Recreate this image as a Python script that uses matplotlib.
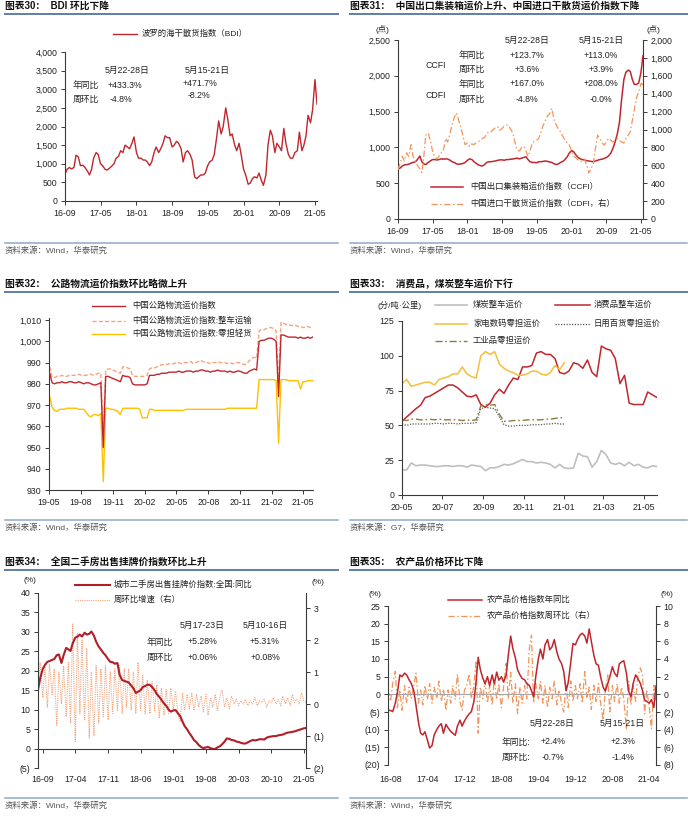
import matplotlib
matplotlib.use("Agg")
import matplotlib.pyplot as plt
from matplotlib.lines import Line2D
import pandas as pd

plt.rcParams['font.family'] = ['Liberation Sans', 'Noto Sans CJK SC', 'DejaVu Sans']
plt.rcParams['axes.unicode_minus'] = False

# ---------------- data ----------------
# 图表30 BDI (semi-monthly from 2016-09)
bdi = [720, 850, 900, 860, 900, 1230, 1180, 950,
       960, 900, 800, 700, 850, 1150, 1300, 1250, 1000, 950, 850, 830,
       880, 930, 1000, 1150, 1200, 1350, 1300, 1500, 1450, 1400, 1550, 1720,
       1300, 1150, 1150, 1100, 1100, 1050, 950, 1050, 1300, 1450, 1300, 1400,
       1550, 1750, 1700, 1700, 1450, 1500, 1600, 1550, 1400, 1050, 1300, 1350,
       1250, 1100, 650, 600, 650, 700, 700, 750, 950, 1050, 1100, 1250,
       1700, 2150, 1800, 2000, 2500, 2200, 1750, 1800, 1500, 1350, 1550, 1250,
       850, 700, 450, 480, 600, 650, 620, 750, 550, 420, 700, 1500,
       1900, 1750, 1300, 1550, 1450, 1350, 1950, 1550, 1250, 1150, 1150, 1300,
       1350, 1850, 1350, 1500, 1750, 2300, 2100, 2450, 3260, 2600]
x1_labels = ['16-09', '17-05', '18-01', '18-09', '19-05', '20-01', '20-09', '21-05']

# 图表31 CCFI (left) / CDFI (right), semi-monthly from 2016-09
ccfi = [700, 710, 740, 755, 760, 765, 780, 790, 800, 830,
        880, 800, 770, 760, 790, 810, 830, 830, 825, 830,
        840, 835, 840, 838, 820, 800, 790, 770, 765, 770,
        775, 790, 820, 840, 830, 800, 780, 760, 745, 740,
        760, 790, 800, 800, 805, 810, 820, 825, 826, 820,
        830, 830, 835, 838, 845, 850, 840, 850, 860, 870,
        830, 800, 790, 790, 785, 800, 800, 805, 810, 805,
        795, 790, 770, 760, 770, 790, 805, 830, 870, 920,
        955, 940, 890, 860, 840, 830, 825, 815, 810, 805,
        800, 810, 820, 830, 835, 845, 860, 880, 920, 980,
        1080, 1180, 1350, 1650, 1950, 2050, 2080, 2060, 1950, 1880,
        1880, 1900, 2050, 2280]
cdfi = [550, 620, 700, 650, 740, 700, 830, 700, 650, 600,
        560, 520, 700, 940, 960, 880, 760, 700, 670, 700,
        740, 760, 900, 860, 960, 1050, 1140, 1184, 1100, 1030,
        920, 830, 850, 810, 840, 830, 850, 860, 880, 900,
        910, 950, 980, 975, 1000, 1020, 1030, 990, 1010, 1040,
        1050, 1045, 1000, 960, 850, 770, 760, 800, 810, 760,
        700, 760, 850, 870, 880, 900, 980, 1045, 1100, 1150,
        1180, 1235, 1100, 1050, 1000, 975, 920, 880, 850, 827,
        760, 700, 680, 660, 640, 650, 670, 600, 514, 560,
        620, 780, 938, 900, 850, 827, 860, 900, 880, 860,
        880, 900, 880, 860, 850, 900, 938, 976, 1100, 1218,
        1366, 1420, 1515, 1500]

# 图表32 road freight indices, weekly from 2019-05-03
road_all = [985, 980.5, 980, 980.5, 980.5, 981, 980.5, 980.5, 981, 981,
            980.5, 980.5, 981, 980.5, 980, 980.5, 980.5, 980, 979.5, 979.5,
            980, 980.5, 950, 983.5, 983.5, 983, 982.5, 982, 981.5, 981,
            984, 983.5, 983.5, 983, 980, 979.5, 979.5, 979.5, 979.5, 979.5,
            980, 984, 984, 984, 984.5, 984.5, 985, 985, 985, 985.5,
            985.5, 985.5, 985.5, 986, 985.5, 985.5, 986, 986, 986, 985.5,
            986, 986, 986.5, 986.5, 986, 986, 985.5, 986, 986, 986.5,
            986, 986, 986, 985.5, 986, 985.5, 985.5, 986, 986, 985.5,
            985, 985, 986, 986.5, 987, 986.5, 1000, 1000.5, 1000.5, 1001,
            1001.5, 1001.5, 1001, 1000, 974, 1003, 1003, 1002.5, 1002, 1002,
            1002, 1002, 1001.5, 1002, 1001.5, 1001.5, 1002, 1001.5, 1002]
road_truck = [988, 983, 983, 983.5, 983.5, 984, 983.5, 983.5, 984, 984,
              984, 984, 984.5, 984, 984, 984, 984.5, 984.5, 984, 984.5,
              985, 985, 955, 986.5, 987, 987, 986.5, 986, 985.5, 985,
              988, 988, 987.5, 987, 984, 983.5, 983.5, 983.5, 983.5, 983.5,
              984, 987, 987.5, 987.5, 988, 988.5, 989, 989, 989, 989.5,
              989.5, 989.5, 990, 990, 989.5, 990, 990, 990, 990.5, 989.5,
              990, 990.5, 991, 990.5, 990, 990, 989.5, 990, 990, 990.5,
              990, 990, 990, 989.5, 990, 989.5, 989.5, 990, 990, 989.5,
              989, 989.5, 991, 992, 992.5, 992, 1005, 1005.5, 1005.5, 1006,
              1006.5, 1006.5, 1006, 1005, 980, 1009, 1008.5, 1008, 1008, 1007.5,
              1007.5, 1007.5, 1007, 1007, 1006.5, 1006.5, 1007, 1006.5, 1006.5]
road_ltl = [974, 969, 967.5, 967, 968, 968, 968, 968.5, 968.5, 968.5,
            968.5, 968.5, 968, 968, 968, 966.5, 965, 964.5, 965.5, 965.5,
            965, 966, 934, 968.5, 968.5, 968, 968, 967.5, 967, 965.5,
            968.5, 968.5, 968.5, 968.5, 968.5, 968.5, 968.5, 968, 964, 964,
            964, 968, 968, 967.5, 967.5, 967.5, 967.5, 967.5, 967.5, 967.5,
            967.5, 967.5, 967.5, 967.5, 967.5, 967.5, 968, 968, 968, 968,
            968, 968, 968, 968, 968, 968, 968, 968, 968, 968,
            968, 968, 968, 968.5, 968.5, 968.5, 968.5, 968.5, 968.5, 968.5,
            968.5, 968.5, 968.5, 968.5, 968.5, 968.5, 982, 982, 982, 982,
            982, 982, 982, 981.5, 952, 982, 982, 982, 981.5, 981.5,
            981.5, 981.5, 981.5, 977.5, 981, 981, 981.5, 981.5, 981.5]
x3_labels = ['19-05', '19-08', '19-11', '20-02', '20-05', '20-08', '20-11', '21-02', '21-05']

# 图表33 G7 freight rates, weekly from 2020-05-01
coal = [18, 18, 23, 21, 21.5, 21.5, 21, 20.5, 20.5, 21,
        21, 20.5, 21, 21, 20, 21.5, 21, 20.5, 17.5, 19.5,
        19.5, 20.5, 22, 21.5, 22.5, 24, 25.5, 24, 24, 23,
        23.5, 23, 22, 19.5, 22, 19.5, 19, 19.5, 30, 28,
        27.5, 20, 24, 32, 29, 23, 22, 23, 21, 23.5,
        21, 22, 20, 19.5, 21, 20.5]
consumer = [53, 56, 59, 62, 64.5, 70, 71, 73, 75, 77,
            79, 79, 77, 74, 71, 70.5, 72, 65, 63, 66,
            72, 76, 73, 79, 84, 83, 92, 92, 93, 102,
            103, 101, 101, 98, 88, 87, 89, 95, 94, 91,
            97, 88, 85, 107, 105, 104, 98, 80, 86, 66,
            65, 65, 65, 74, 72, 70]
appliance = [80, 83, 78, 79, 80, 81, 81, 79, 83, 84,
             85, 87, 87, 92, 87, 85, 84, 100, 103, 101,
             103, 94, 91, 89, 88, 86, 86, 87, 89, 89,
             87, 86, 88, 93, 90, 95]
daily = [51, 50, 51, 51, 51, 51, 51, 51.5, 51.5, 51,
         51.5, 51.5, 51, 51.5, 51.5, 51.5, 52, 62, 63, 62.5,
         62, 56, 50.5, 49.5, 49.5, 50, 50, 50, 50.5, 50.5,
         50.5, 51, 51, 51.5, 51, 51]
industrial = [54, 53.5, 54.5, 54.5, 54, 54, 54.5, 54, 54.5, 54,
              54, 54, 54, 53.5, 54, 53.5, 54, 64, 65, 64.5,
              65, 58, 53, 53, 53.5, 53.5, 53.5, 54, 54, 54,
              54, 54.5, 54.5, 55, 55.5, 55.5]
x4_labels = ['20-05', '20-07', '20-09', '20-11', '21-01', '21-03', '21-05']

# 图表34 second-hand housing listing price, semi-monthly from 2016-08
house_yoy = [15.1, 18, 20.5, 21.5, 22.3, 22.5, 22.8, 23, 24, 24.2,
             22, 24, 25.9, 25.5, 25.1, 27, 28.5, 28.8, 29.3, 28.8,
             29.8, 29.3, 29.5, 30.1, 29, 27.5, 26.2, 25.5, 24.6, 24,
             23, 22.3, 22.2, 21.8, 22, 19, 17.6, 17.4, 17.2, 17,
             16.2, 15.5, 14.3, 14.6, 15, 15.8, 16.1, 16.4, 16.4, 15.8,
             15, 14, 13.3, 12.5, 11.6, 11, 10, 9.5, 9.8, 9.9,
             9, 8.3, 7, 5.8, 4.9, 4, 3.1, 2.2, 1.6, 0.9,
             0.4, 0.1, 0.3, 0.4, 0.1, -0.1, -0.1, 0.3, 0.6, 1.1,
             1.8, 2.6, 2.5, 2.2, 2.1, 1.8, 1.7, 1.5, 1.3, 1.3,
             1.6, 1.9, 2.2, 2.1, 2.2, 2.4, 2.4, 2.3, 2.8, 3.0,
             3.1, 3.2, 3.2, 3.4, 3.5, 3.6, 3.9, 4.1, 4.2, 4.3,
             4.4, 4.6, 4.8, 5.0, 5.2, 5.28]
house_wow = [0.4, 1.3, 0.2, 1.2, -0.1, 1.25, 0.3, 1.1, -0.66, 1.0,
             0.0, 1.2, -0.4, 1.3, -0.6, 2.5, -1.18, 2.2, -0.3, 2.0,
             -0.5, 1.75, -1.06, 1.0, -1.0, 1.2, -0.6, 1.1, -0.4, 1.2,
             -0.5, 1.0, -0.3, 1.1, -0.2, 1.2, -0.3, 1.1, -0.1, 1.1,
             -0.2, 1.0, -0.3, 1.3, -0.2, 0.9, -0.3, 0.75, -0.3, 0.7,
             -0.2, 0.6, -0.45, 0.5, -0.35, 0.45, -0.3, 0.5, -0.2, 0.4,
             -0.35, -0.55, 0.35, -0.2, 0.3, -0.15, 0.35, -0.2, 0.3, -0.1,
             0.25, -0.25, 0.3, -0.35, 0.2, -0.1, 0.3, -0.2, 0.25, 0.44,
             -0.1, 0.2, -0.15, 0.25, 0.0, 0.15, -0.05, 0.1, 0.0, 0.15,
             -0.05, 0.1, 0.0, 0.2, -0.05, 0.1, 0.05, 0.15, -0.1, 0.1,
             0.05, 0.2, 0.0, 0.15, -0.05, 0.25, 0.0, 0.2, -0.05, 0.3,
             0.05, 0.15, 0.0, 0.35, 0.1, 0.06]
x5_labels = ['16-09', '17-04', '17-11', '18-06', '19-01', '19-08', '20-03', '20-10', '21-05']

# 图表35 agricultural price index, semi-monthly from 2016-07-15
agri_yoy = [-4.4, -4.6, -4.9, -2.5, 0.5, 5.5, 5.0, 6.0, 5.5, 4.1,
            3.1, 1.0, -3.0, -8.0, -11.0, -11.5, -10.6, -13.0, -15.2, -14.5,
            -11.5, -10.0, -9.0, -8.3, -11.0, -8.5, -9.5, -10.5, -11.0, -11.6,
            -9.0, -7.3, -9.0, -7.5, -6.5, -5.5, -4.9, -2.0, 3.5, 10.5,
            7.0, 4.5, 3.0, 5.0, 2.5, 5.5, 3.0, 6.3, 4.0, 5.0,
            3.5, 5.4, 11.0, 16.5, 13.0, 10.3, 7.0, 5.5, 4.5, 4.1,
            3.0, 2.5, 1.0, -0.7, 5.0, 10.0, 12.8, 10.0, 14.0, 15.5,
            12.6, 13.5, 15.5, 12.0, 10.0, 8.7, 6.5, 1.0, 3.4, 9.2,
            14.4, 14.0, 15.5, 16.8, 17.3, 16.5, 14.5, 18.5, 15.0, 11.0,
            8.7, 8.2, 5.0, 2.0, 0.9, 3.0, 5.0, 7.8, 6.0, 5.0,
            8.6, 9.2, 9.5, 6.0, 1.0, -0.7, 3.0, 5.5, 4.5, 3.1,
            1.0, -1.6, -2.0, -2.5, -1.5, -3.7, 2.4]
agri_wow = [0.5, -0.8, 1.2, 2.6, -1.5, 0.5, -1.8, 1.0, -1.0, 0.8,
            -0.5, 1.0, 2.4, -1.0, 0.5, -1.2, 1.0, -0.6, 1.2, -1.0,
            0.8, -0.5, 1.5, -0.8, 0.6, -1.8, 0.5, -1.0, 1.0, -0.6,
            2.3, -0.8, -1.8, 0.5, 1.0, 2.3, -0.5, 1.0, 3.8, -4.4,
            0.8, -0.5, 1.5, -1.0, 1.0, -1.2, 1.8, -0.6, 1.2, -1.5,
            0.8, 3.5, -0.5, 2.5, -1.0, 1.2, -2.2, 0.8, -1.0, 1.0,
            -0.5, 5.2, 6.7, -1.0, 1.2, -0.5, 1.5, -1.0, 1.0, -1.5,
            0.8, -0.5, 1.5, -1.2, 0.5, -1.0, -2.0, 1.0, -1.5, 1.5,
            -0.8, 1.0, -0.5, 1.2, -1.0, 2.6, -0.5, 0.8, -1.7, 1.0,
            -0.8, 1.2, -1.0, -2.9, 0.5, 2.2, -2.0, 1.0, -0.8, 1.2,
            -1.0, 0.8, -0.5, -4.0, 1.5, -1.2, 1.0, -0.8, 2.0, 3.0,
            2.2, -2.2, 0.5, -1.5, -3.9, 1.0, -0.7]
x6_labels = ['16-08', '17-04', '17-12', '18-08', '19-04', '19-12', '20-08', '21-04']

# ---------------- figure helpers ----------------
W, H = 692, 817
fig = plt.figure(figsize=(W / 100, H / 100), dpi=100)
fig.patch.set_facecolor('white')

RED = '#C0262D'
DARK_RED = '#B01E28'
ORANGE = '#F2955A'
LIGHT_ORANGE = '#F5A57E'
YELLOW = '#FFC000'
GREY = '#BFBFBF'
TITLE_RULE = '#5E7FA8'
SRC_RULE = '#8EA8C8'
TXT = '#222222'


def fx(x):
    return x / W


def fy(y):
    return 1 - y / H


def txt(x, y, s, size=6.3, ha='left', weight='normal', color=TXT):
    fig.text(fx(x), fy(y), s, fontsize=size, ha=ha, va='center',
             fontweight=weight, color=color)


def rule(x0, x1, y, color, lw):
    fig.add_artist(Line2D([fx(x0), fx(x1)], [fy(y), fy(y)], color=color, lw=lw))


def key(x0, x1, y, tx, label, **style):
    # legend sample drawn in figure space
    fig.add_artist(Line2D([fx(x0), fx(x1)], [fy(y), fy(y)], **style))
    txt(tx, y, label, size=6)


def panel(x0, x1, title, t_y, src, src_y):
    txt(x0, t_y, title, size=7, weight='bold', color='#111111')
    rule(x0, x1, t_y + 8, TITLE_RULE, 1.4)
    rule(x0, x1, src_y - 8, SRC_RULE, 1.1)
    txt(x0, src_y, src, size=6, color='#555555')


def add_ax(l, t, r, b):
    return fig.add_axes([fx(l), fy(b), (r - l) / W, (b - t) / H])


def style(ax, right=False):
    for s in ['top', 'right', 'left', 'bottom']:
        ax.spines[s].set_visible(False)
    keep = ['right'] if right else ['left', 'bottom']
    for s in keep:
        ax.spines[s].set_visible(True)
        ax.spines[s].set_color('#3a3a3a')
        ax.spines[s].set_linewidth(0.8)
    ax.tick_params(direction='out', length=3, width=0.7, color='#3a3a3a',
                   labelsize=6.3, labelcolor=TXT, pad=2.5)
    ax.patch.set_visible(False)


def month_ticks(labels):
    return pd.to_datetime(['20' + s + '-01' for s in labels])


def paren(v):
    return f'({abs(v):,.0f})' if v < 0 else f'{v:,.0f}'


# ---------------- 图表30 ----------------
panel(5, 338, '图表30：  BDI 环比下降', 6, '资料来源：Wind，华泰研究', 251)
d1 = pd.date_range('2016-09-01', periods=len(bdi), freq='SMS')
ax1 = add_ax(65, 52, 317, 201)
style(ax1)
ax1.plot(d1, bdi, color=RED, lw=1.0)
ax1.set_ylim(0, 4000)
ax1.set_yticks(range(0, 4001, 500), [paren(v) for v in range(0, 4001, 500)])
ax1.set_xlim(d1[0], d1[-1])
ax1.set_xticks(month_ticks(x1_labels), x1_labels)
key(113, 137, 34, 142, '波罗的海干散货指数（BDI）', color=RED, lw=1.0)
txt(127, 70, '5月22-28日', ha='center')
txt(207, 70, '5月15-21日', ha='center')
txt(73, 85, '年同比')
txt(108, 85, '+433.3%')
txt(183, 84, '+471.7%')
txt(73, 99, '周环比')
txt(110, 99, '-4.8%')
txt(188, 96, '-8.2%')

# ---------------- 图表31 ----------------
panel(350, 687, '图表31：  中国出口集装箱运价上升、中国进口干散货运价指数下降', 6,
      '资料来源：Wind，华泰研究', 251)
d2 = pd.date_range('2016-09-01', periods=len(ccfi), freq='SMS')
ax2 = add_ax(398, 40, 643, 219)
ax2r = ax2.twinx()
style(ax2)
style(ax2r, right=True)
ax2.plot(d2, ccfi, color=RED, lw=1.1, zorder=3)
ax2r.plot(d2, cdfi, color=ORANGE, lw=0.9, linestyle=(0, (5, 2, 1.2, 2)))
ax2.set_ylim(0, 2500)
ax2.set_yticks(range(0, 2501, 500), [paren(v) for v in range(0, 2501, 500)])
ax2r.set_ylim(0, 2000)
ax2r.set_yticks(range(0, 2001, 200), [paren(v) for v in range(0, 2001, 200)])
ax2.set_xlim(d2[0], d2[-1])
ax2.set_xticks(month_ticks(x1_labels), x1_labels)
txt(375, 30, '(点)', size=6)
txt(653, 30, '(点)', size=6, ha='center')
txt(527, 40, '5月22-28日', ha='center')
txt(601, 40, '5月15-21日', ha='center')
txt(436, 66, 'CCFI', ha='center')
txt(436, 96, 'CDFI', ha='center')
for yy, a, b, lab in [(55, '+123.7%', '+113.0%', '年同比'), (69, '+3.6%', '+3.9%', '周环比'),
                      (84, '+167.0%', '+208.0%', '年同比'), (99, '-4.8%', '-0.0%', '周环比')]:
    txt(472, yy, lab, ha='center')
    txt(527, yy, a, ha='center')
    txt(601, yy, b, ha='center')
key(431, 463, 187, 470, '中国出口集装箱运价指数（CCFI）', color=RED, lw=1.1)
key(431, 463, 204, 470, '中国进口干散货运价指数（CDFI，右）', color=ORANGE, lw=0.9,
    linestyle=(0, (5, 2, 1.2, 2)))

# ---------------- 图表32 ----------------
panel(5, 338, '图表32：  公路物流运价指数环比略微上升', 284, '资料来源：Wind，华泰研究', 528)
d3 = pd.date_range('2019-05-03', periods=len(road_all), freq='7D')
ax3 = add_ax(49, 318, 313, 490)
style(ax3)
ax3.plot(d3, road_all, color=RED, lw=1.0, zorder=3)
ax3.plot(d3[:len(road_truck)], road_truck, color=LIGHT_ORANGE, lw=1.0, linestyle=(0, (3, 1.5)))
ax3.plot(d3[:len(road_ltl)], road_ltl, color=YELLOW, lw=1.0)
ax3.set_ylim(930, 1011)
ax3.set_yticks(range(930, 1011, 10), [paren(v) for v in range(930, 1011, 10)])
ax3.set_xlim(pd.Timestamp('2019-05-01'), pd.Timestamp('2021-05-29'))
ax3.set_xticks(month_ticks(x3_labels), x3_labels)
key(92, 125, 306, 132, '中国公路物流运价指数', color=RED, lw=1.0)
key(92, 125, 321, 132, '中国公路物流运价指数:整车运输', color=LIGHT_ORANGE, lw=1.0,
    linestyle=(0, (3, 1.5)))
key(92, 125, 334, 132, '中国公路物流运价指数:零担轻货', color=YELLOW, lw=1.0)

# ---------------- 图表33 ----------------
panel(350, 687, '图表33：  消费品，煤炭整车运价下行', 284, '资料来源：G7，华泰研究', 528)
d4 = pd.date_range('2020-05-01', periods=len(coal), freq='7D')
ax4 = add_ax(402, 321, 657, 495)
style(ax4)
DOT = dict(color='#595959', lw=0.9, linestyle=(0, (1, 1.2)))
DASHDOT = dict(color='#8C7B3E', lw=1.0, linestyle=(0, (5, 2, 1.2, 2)))
ax4.plot(d4, coal, color=GREY, lw=1.2)
ax4.plot(d4[:len(consumer)], consumer, color=RED, lw=1.1)
ax4.plot(d4[:len(appliance)], appliance, color='#F5BE3C', lw=1.1)
ax4.plot(d4[:len(daily)], daily, **DOT)
ax4.plot(d4[:len(industrial)], industrial, **DASHDOT)
ax4.set_ylim(0, 125)
ax4.set_yticks(range(0, 126, 25))
ax4.set_xlim(pd.Timestamp('2020-05-01'), pd.Timestamp('2021-05-21'))
ax4.set_xticks(month_ticks(x4_labels), x4_labels)
txt(378, 305, '(分/吨·公里)', size=6)
key(435, 467, 305, 473, '煤炭整车运价', color=GREY, lw=1.2)
key(555, 590, 305, 594, '消费品整车运价', color=RED, lw=1.1)
key(435, 467, 324, 473, '家电数码零担运价', color='#F5BE3C', lw=1.1)
key(555, 590, 324, 594, '日用百货零担运价', **DOT)
key(435, 467, 341, 473, '工业品零担运价', **DASHDOT)

# ---------------- 图表34 ----------------
panel(5, 338, '图表34：  全国二手房出售挂牌价指数环比上升', 562, '资料来源：Wind，华泰研究', 806)
d5 = pd.date_range('2016-08-01', periods=len(house_yoy), freq='SMS')
ax5 = add_ax(38, 593, 306, 768)
ax5r = ax5.twinx()
style(ax5)
style(ax5r, right=True)
ax5.set_zorder(ax5r.get_zorder() + 1)
ax5r.plot(d5[:len(house_wow)], house_wow, color=LIGHT_ORANGE, lw=0.8, linestyle=(0, (1, 1)))
ax5.plot(d5, house_yoy, color=DARK_RED, lw=1.5)
ax5.set_ylim(-5, 40)
ax5.set_yticks(range(-5, 41, 5), [paren(v) for v in range(-5, 41, 5)])
ax5r.set_ylim(-2, 3.47)
ax5r.set_yticks(range(-2, 4), [paren(v) for v in range(-2, 4)])
ax5.set_xlim(d5[0], d5[-1])
ax5.spines['bottom'].set_position(('data', 0))
ax5.set_xticks(month_ticks(x5_labels))
ax5.tick_params(axis='x', labelbottom=False)
for t, lab in zip(month_ticks(x5_labels), x5_labels):
    ax5.text(t, -0.063, lab, transform=ax5.get_xaxis_transform(), ha='center',
             va='center', fontsize=6.3, color=TXT)
txt(30, 581, '(%)', size=6, ha='center')
txt(318, 582, '(%)', size=6, ha='center')
key(75, 110, 585, 114, '城市二手房出售挂牌价指数:全国:同比', color=DARK_RED, lw=1.5)
key(75, 110, 600, 114, '周环比增速（右）', color=LIGHT_ORANGE, lw=0.8, linestyle=(0, (1, 1)))
txt(202, 625, '5月17-23日', ha='center')
txt(265, 625, '5月10-16日', ha='center')
txt(160, 642, '年同比', ha='center')
txt(202, 642, '+5.28%', ha='center')
txt(265, 642, '+5.31%', ha='center')
txt(160, 657, '周环比', ha='center')
txt(202, 657, '+0.06%', ha='center')
txt(265, 657, '+0.08%', ha='center')

# ---------------- 图表35 ----------------
panel(350, 687, '图表35：  农产品价格环比下降', 562, '资料来源：Wind，华泰研究', 806)
d6 = pd.date_range('2016-07-15', periods=len(agri_yoy), freq='SMS')
ax6 = add_ax(388, 606, 656, 765)
ax6r = ax6.twinx()
style(ax6)
style(ax6r, right=True)
ax6.spines['bottom'].set_visible(False)
ax6.set_zorder(ax6r.get_zorder() + 1)
ax6.axhline(0, color='#A6A6A6', lw=0.8, zorder=0)
ax6r.plot(d6[:len(agri_wow)], agri_wow, color=ORANGE, lw=0.9, linestyle=(0, (5, 2, 1.2, 2)))
ax6.plot(d6, agri_yoy, color=RED, lw=1.1)
ax6.set_ylim(-20, 25)
ax6.set_yticks(range(-20, 26, 5), [paren(v) for v in range(-20, 26, 5)])
ax6r.set_ylim(-8, 10)
ax6r.set_yticks(range(-8, 11, 2), [paren(v) for v in range(-8, 11, 2)])
ax6.set_xlim(d6[0], d6[-1])
ax6.set_xticks(month_ticks(x6_labels), x6_labels)
ax6.tick_params(axis='x', length=0, pad=7)
txt(375, 594, '(%)', size=6, ha='center')
txt(667, 594, '(%)', size=6, ha='center')
key(448, 482, 600, 487, '农产品价格指数年同比', color=RED, lw=1.1)
key(448, 482, 616, 487, '农产品价格指数周环比（右）', color=ORANGE, lw=0.9,
    linestyle=(0, (5, 2, 1.2, 2)))
txt(552, 723, '5月22-28日', ha='center')
txt(622, 723, '5月15-21日', ha='center')
txt(502, 742, '年同比:')
txt(553, 742, '+2.4%', ha='center')
txt(623, 742, '+2.3%', ha='center')
txt(502, 757, '周环比:')
txt(553, 757, '-0.7%', ha='center')
txt(623, 757, '-1.4%', ha='center')

fig.savefig('out.png', dpi=100, facecolor='white')
